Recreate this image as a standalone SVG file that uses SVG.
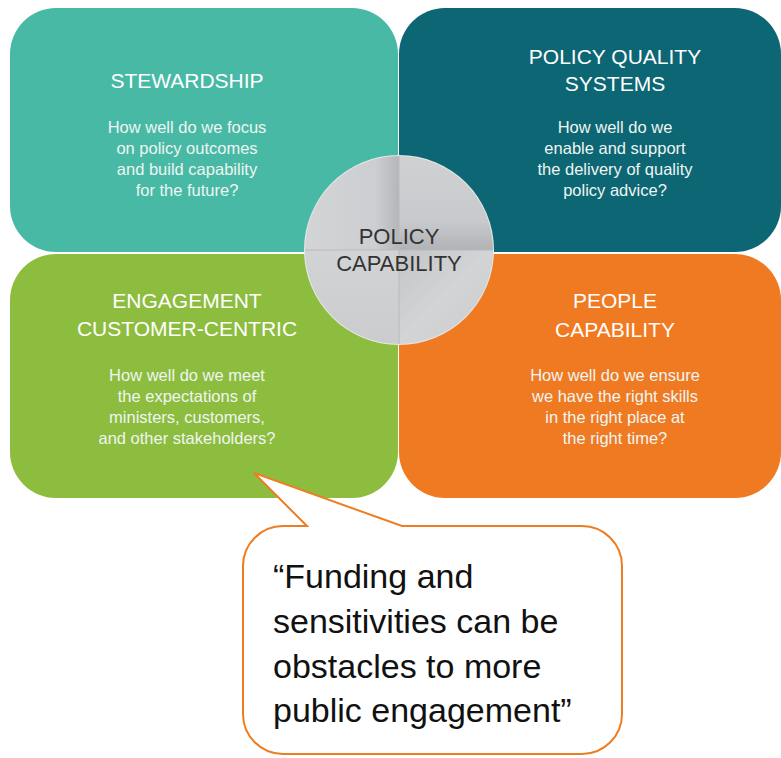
<svg xmlns="http://www.w3.org/2000/svg" width="781" height="758" viewBox="0 0 781 758">
<defs>
<style>
.title{font-family:"Liberation Sans",Arial,sans-serif;font-size:21px;fill:#ffffff;text-anchor:middle}
.body{font-family:"Liberation Sans",Arial,sans-serif;font-size:16.5px;fill:#eef5f2;text-anchor:middle}
.ctext{font-family:"Liberation Sans",Arial,sans-serif;font-size:22px;fill:#333333;text-anchor:middle}
.quote{font-family:"Liberation Sans",Arial,sans-serif;font-size:34px;fill:#111111}
</style>
<linearGradient id="qTL" x1="0" y1="0" x2="1" y2="0">
<stop offset="0" stop-color="#d3d4d6"/><stop offset="0.75" stop-color="#cdced1"/><stop offset="1" stop-color="#b4b6b9"/>
</linearGradient>
<linearGradient id="qTR" x1="0" y1="0" x2="0" y2="1">
<stop offset="0" stop-color="#d0d1d3"/><stop offset="0.7" stop-color="#c8c9cc"/><stop offset="1" stop-color="#b0b2b5"/>
</linearGradient>
<linearGradient id="qBL" x1="0" y1="0" x2="0" y2="1">
<stop offset="0" stop-color="#d2d3d5"/><stop offset="1" stop-color="#cbccce"/>
</linearGradient>
<linearGradient id="qBR" x1="0" y1="0" x2="1" y2="1">
<stop offset="0" stop-color="#c3c5c8"/><stop offset="0.5" stop-color="#d3d4d6"/><stop offset="1" stop-color="#c9cacd"/>
</linearGradient>
</defs>
<rect width="781" height="758" fill="#ffffff"/>

<g id="stewardship">
<rect x="10" y="8" width="388" height="244" rx="46" fill="#48b9a5"/>
<text class="title" x="187" y="88">STEWARDSHIP</text>
<text class="body" x="187" y="133">How well do we focus</text>
<text class="body" x="187" y="154">on policy outcomes</text>
<text class="body" x="187" y="175">and build capability</text>
<text class="body" x="187" y="196">for the future?</text>
</g>

<g id="policy-quality-systems">
<rect x="399" y="8" width="382" height="244" rx="46" fill="#0c6673"/>
<text class="title" x="615" y="64">POLICY QUALITY</text>
<text class="title" x="615" y="91">SYSTEMS</text>
<text class="body" x="615" y="133">How well do we</text>
<text class="body" x="615" y="154">enable and support</text>
<text class="body" x="615" y="175">the delivery of quality</text>
<text class="body" x="615" y="196">policy advice?</text>
</g>

<g id="engagement">
<rect x="10" y="254" width="388" height="244" rx="46" fill="#8dbd3f"/>
<text class="title" x="187" y="308">ENGAGEMENT</text>
<text class="title" x="187" y="336">CUSTOMER-CENTRIC</text>
<text class="body" x="187" y="381">How well do we meet</text>
<text class="body" x="187" y="402">the expectations of</text>
<text class="body" x="187" y="423">ministers, customers,</text>
<text class="body" x="187" y="444">and other stakeholders?</text>
</g>

<g id="people-capability">
<rect x="399" y="254" width="382" height="244" rx="46" fill="#f07a22"/>
<text class="title" x="615" y="308">PEOPLE</text>
<text class="title" x="615" y="337">CAPABILITY</text>
<text class="body" x="615" y="381">How well do we ensure</text>
<text class="body" x="615" y="402">we have the right skills</text>
<text class="body" x="615" y="423">in the right place at</text>
<text class="body" x="615" y="444">the right time?</text>
</g>

<g id="policy-capability">
<circle cx="399" cy="250" r="95" fill="#e6e7e8"/>
<path d="M399 250 L305 250 A94 94 0 0 1 399 156 Z" fill="url(#qTL)"/>
<path d="M399 250 L399 156 A94 94 0 0 1 493 250 Z" fill="url(#qTR)"/>
<path d="M399 250 L493 250 A94 94 0 0 1 399 344 Z" fill="url(#qBR)"/>
<path d="M399 250 L399 344 A94 94 0 0 1 305 250 Z" fill="url(#qBL)"/>
<line x1="305" y1="250" x2="493" y2="250" stroke="#b8babd" stroke-width="1"/>
<line x1="399" y1="156" x2="399" y2="344" stroke="#b8babd" stroke-width="1"/>
<text class="ctext" x="399" y="244">POLICY</text>
<text class="ctext" x="399" y="271">CAPABILITY</text>
</g>

<g id="quote-callout">
<path d="M283 526 L307 526 L254 473 L402 526 L582 526 A40 40 0 0 1 622 566 L622 714 A40 40 0 0 1 582 754 L283 754 A40 40 0 0 1 243 714 L243 566 A40 40 0 0 1 283 526 Z" fill="#ffffff" stroke="#ee7d22" stroke-width="2" stroke-linejoin="miter"/>
<text class="quote" x="273" y="588">“Funding and</text>
<text class="quote" x="273" y="633">sensitivities can be</text>
<text class="quote" x="273" y="678">obstacles to more</text>
<text class="quote" x="273" y="722">public engagement”</text>
</g>

<g id="connectors"/>
</svg>
